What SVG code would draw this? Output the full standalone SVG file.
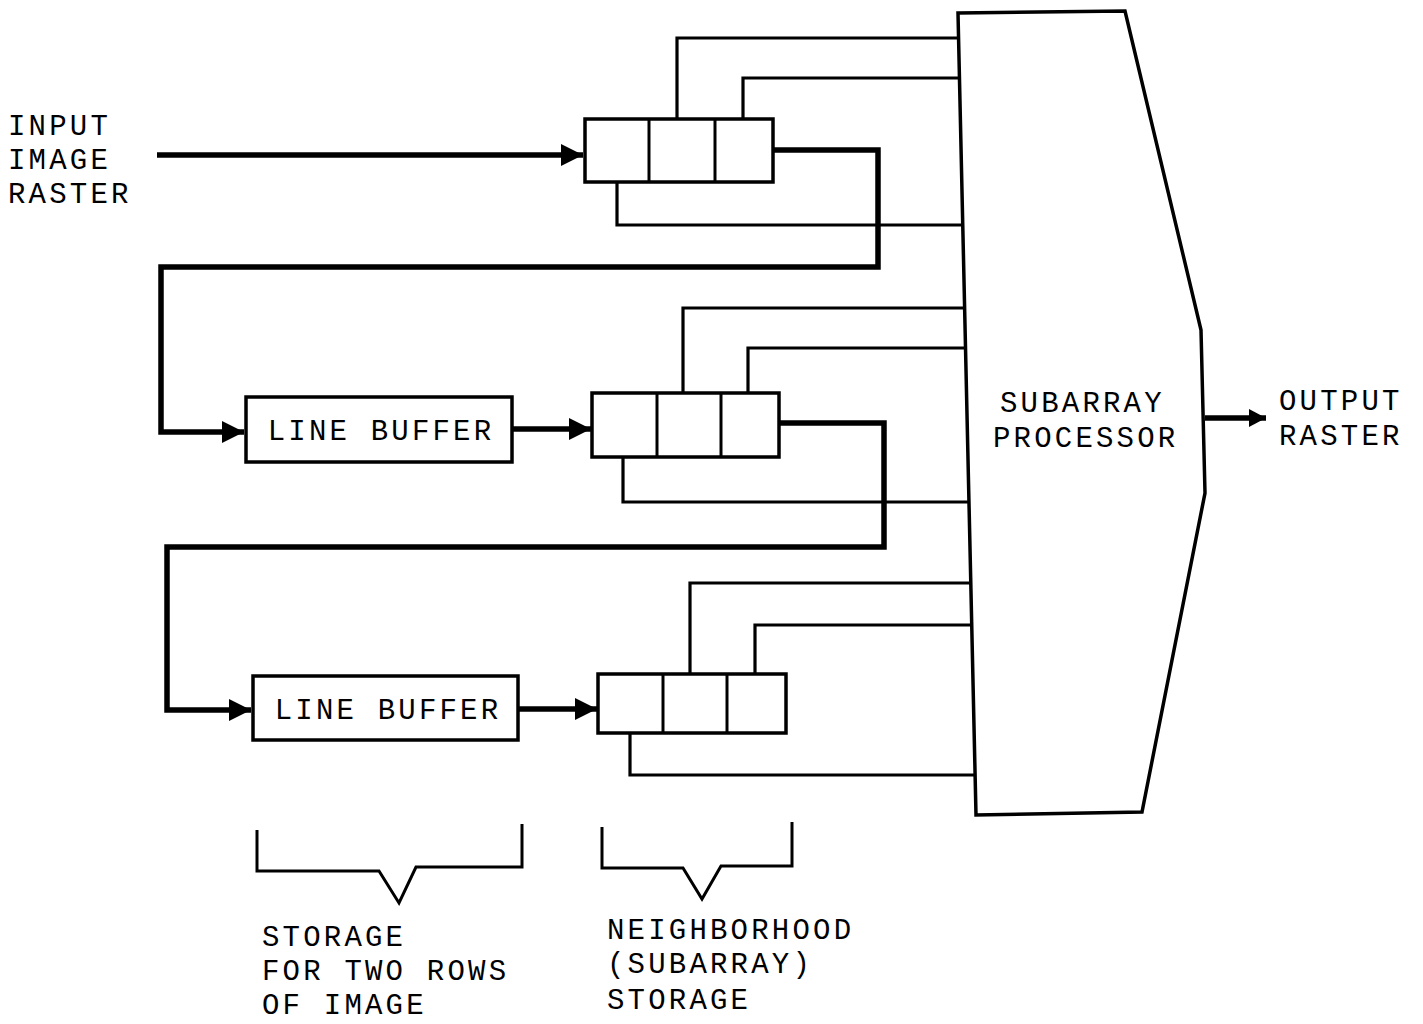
<svg xmlns="http://www.w3.org/2000/svg" width="1423" height="1024" viewBox="0 0 1423 1024">
<defs>
<marker id="ah" markerUnits="userSpaceOnUse" markerWidth="24" markerHeight="24" refX="22" refY="11" orient="auto">
<path d="M0,0 L22,11 L0,22 Z" fill="#000"/>
</marker>
<marker id="ahs" markerUnits="userSpaceOnUse" markerWidth="20" markerHeight="20" refX="17" refY="9" orient="auto">
<path d="M0,0 L17,9 L0,18 Z" fill="#000"/>
</marker>
<style>
text{font-family:"Liberation Mono","Courier New",monospace;font-size:29px;letter-spacing:3.2px;fill:#000}
.box{fill:#fff;stroke:#000;stroke-width:3.5}
.div{stroke:#000;stroke-width:3}
.thin{fill:none;stroke:#000;stroke-width:3.2}
.thick{fill:none;stroke:#000;stroke-width:5.5}
.br{fill:none;stroke:#000;stroke-width:3}
</style>
</defs>
<rect width="1423" height="1024" fill="#fff"/>
<g id="connectors">
<path class="thick" d="M157,155 H583" marker-end="url(#ah)"/>
<path class="thick" d="M773,150 H878 V267 H161 V432 H244" marker-end="url(#ah)"/>
<path class="thick" d="M512,429 H591" marker-end="url(#ah)"/>
<path class="thick" d="M779,423 H884 V547 H167 V710 H251" marker-end="url(#ah)"/>
<path class="thick" d="M518,709 H597" marker-end="url(#ah)"/>
<path class="thick" d="M1205,418 H1266" marker-end="url(#ahs)"/>
<path class="thin" d="M677,119 V38 H958.6"/>
<path class="thin" d="M743,119 V78 H959.5"/>
<path class="thin" d="M617,182 V225 H962.8"/>
<path class="thin" d="M683,393 V308 H964.6"/>
<path class="thin" d="M748,393 V348 H965.5"/>
<path class="thin" d="M623,457 V502 H969"/>
<path class="thin" d="M690,674 V583 H970.8"/>
<path class="thin" d="M755,674 V625 H971.7"/>
<path class="thin" d="M630,733 V775 H975"/>
</g>
<g id="input-label">
<text x="8" y="135">INPUT</text>
<text x="8" y="169">IMAGE</text>
<text x="8" y="203">RASTER</text>
</g>
<g id="register1">
<rect class="box" x="585" y="119" width="188" height="63"/>
<line class="div" x1="649" y1="119" x2="649" y2="182"/>
<line class="div" x1="715" y1="119" x2="715" y2="182"/>
</g>
<g id="linebuffer1">
<rect class="box" x="246" y="397" width="266" height="65"/>
<text x="381" y="440" text-anchor="middle">LINE BUFFER</text>
</g>
<g id="register2">
<rect class="box" x="592" y="393" width="187" height="64"/>
<line class="div" x1="657" y1="393" x2="657" y2="457"/>
<line class="div" x1="721" y1="393" x2="721" y2="457"/>
</g>
<g id="linebuffer2">
<rect class="box" x="253" y="676" width="265" height="64"/>
<text x="388" y="719" text-anchor="middle">LINE BUFFER</text>
</g>
<g id="register3">
<rect class="box" x="598" y="674" width="188" height="59"/>
<line class="div" x1="663" y1="674" x2="663" y2="733"/>
<line class="div" x1="727" y1="674" x2="727" y2="733"/>
</g>
<g id="processor">
<polygon class="box" points="958,13 1125,11 1201,330 1205,493 1142,812 976,815"/>
<text x="1000" y="412">SUBARRAY</text>
<text x="993" y="447">PROCESSOR</text>
</g>
<g id="output-label">
<text x="1279" y="410">OUTPUT</text>
<text x="1279" y="445">RASTER</text>
</g>
<g id="bracket-rows">
<path class="br" d="M257,830 V871 H379 L399,903 L416,867 H522 V824"/>
<text x="262" y="946">STORAGE</text>
<text x="262" y="980">FOR TWO ROWS</text>
<text x="262" y="1014">OF IMAGE</text>
</g>
<g id="bracket-neighborhood">
<path class="br" d="M602,827 V868 H683 L702,899 L721,866 H792 V822"/>
<text x="607" y="939">NEIGHBORHOOD</text>
<text x="607" y="973">(SUBARRAY)</text>
<text x="607" y="1009">STORAGE</text>
</g>
</svg>
